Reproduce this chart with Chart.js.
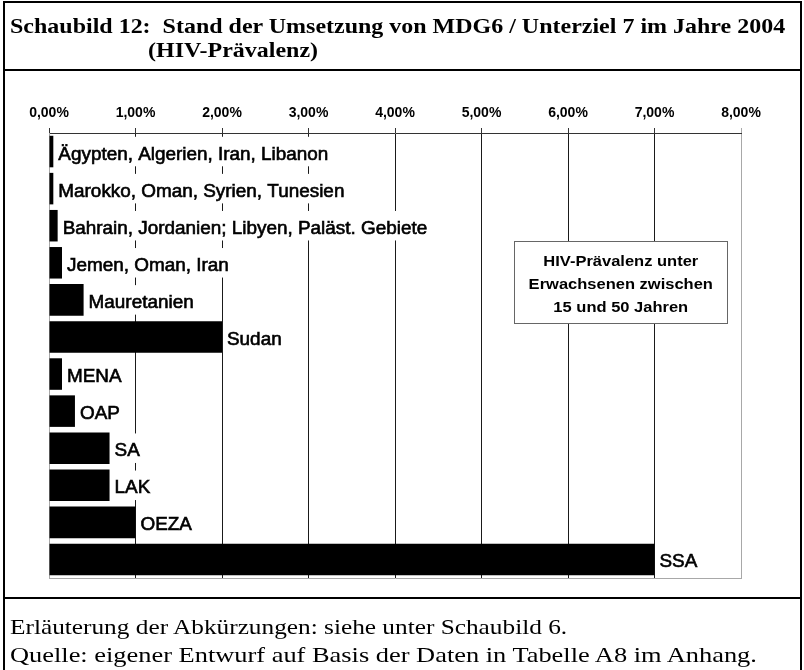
<!DOCTYPE html>
<html>
<head>
<meta charset="utf-8">
<script src="https://cdn.jsdelivr.net/npm/chart.js@4.4.1/dist/chart.umd.min.js"></script>
<style>
    body { margin: 0; background: #fff; }
    #page { position: relative; width: 804px; height: 670px; overflow: hidden; background: #fff; }
    #frame { position: absolute; left: 3px; top: 1px; width: 799px; height: 720px; border: 2px solid #000; box-sizing: border-box; }
    .rule { position: absolute; left: 3px; width: 799px; height: 2px; background: #000; }
    .serif { position: absolute; font-family: "Liberation Serif", "Times New Roman", serif; color: #000; white-space: nowrap; transform-origin: left center; }
    .title { font-weight: bold; font-size: 22px; line-height: 24px; transform: scaleX(1.09); }
    .foot { font-size: 22px; line-height: 28px; }
    #chart { position: absolute; left: 0; top: 0; }
    #note { position: absolute; left: 514px; top: 241px; width: 214px; height: 83px; box-sizing: border-box;
            border: 1px solid #666; background: #fff; padding-top: 7px; text-align: center;
            font-family: "Liberation Sans", Arial, sans-serif; font-weight: bold; font-size: 15px; line-height: 23px; }
    #note span { display: inline-block; transform: scaleX(1.1); }
</style>
</head>
<body>
<div id="page">
    <canvas id="chart" width="804" height="670"></canvas>
    <div id="frame"></div>
    <div class="rule" style="top:69px"></div>
    <div class="rule" style="top:597px"></div>
    <div class="serif title" style="left:10px; top:14px">Schaubild 12:&nbsp; Stand der Umsetzung von MDG6 / Unterziel 7 im Jahre 2004</div>
    <div class="serif title" style="left:148px; top:38px">(HIV-Prävalenz)</div>
    <div id="note"><span>HIV-Prävalenz unter<br>Erwachsenen zwischen<br>15 und 50 Jahren</span></div>
    <div class="serif foot" style="left:10px; top:613px; transform:scaleX(1.15)">Erläuterung der Abkürzungen: siehe unter Schaubild 6.</div>
    <div class="serif foot" style="left:10px; top:641px; transform:scaleX(1.2)">Quelle: eigener Entwurf auf Basis der Daten in Tabelle A8 im Anhang.</div>
</div>
<script>
const categories = [
    'Ägypten, Algerien, Iran, Libanon',
    'Marokko, Oman, Syrien, Tunesien',
    'Bahrain, Jordanien; Libyen, Paläst. Gebiete',
    'Jemen, Oman, Iran',
    'Mauretanien',
    'Sudan',
    'MENA',
    'OAP',
    'SA',
    'LAK',
    'OEZA',
    'SSA'
];
const prevalence = [0.05, 0.05, 0.1, 0.15, 0.4, 2.0, 0.15, 0.3, 0.7, 0.7, 1.0, 7.0];
const tickLabels = ['0,00%', '1,00%', '2,00%', '3,00%', '4,00%', '5,00%', '6,00%', '7,00%', '8,00%'];

const labelStretch = 1.05;

// Beschriftung rechts neben den Balken, mit weissem Hintergrund (verdeckt Gitterlinien)
const barLabels = {
    id: 'barLabels',
    afterDatasetsDraw(chart) {
        const ctx = chart.ctx;
        const meta = chart.getDatasetMeta(0);
        ctx.save();
        ctx.font = '18px "Liberation Sans", Arial, sans-serif';
        ctx.textBaseline = 'middle';
        meta.data.forEach((bar, i) => {
            const text = categories[i];
            const w = ctx.measureText(text).width * labelStretch;
            const h = bar.height - 2;
            ctx.fillStyle = '#fff';
            ctx.fillRect(bar.x + 1, bar.y - h / 2, w + 10, h);
            ctx.save();
            ctx.translate(bar.x + 5, bar.y + 3);
            ctx.scale(labelStretch, 1);
            ctx.fillStyle = '#000';
            ctx.strokeStyle = '#000';
            ctx.lineWidth = 0.6;
            ctx.fillText(text, 0, 0);
            ctx.strokeText(text, 0, 0);
            ctx.restore();
        });
        ctx.restore();
    }
};

const bottomLine = {
    id: 'bottomLine',
    afterDraw(chart) {
        const { ctx, chartArea: a } = chart;
        ctx.save();
        ctx.strokeStyle = '#a8a8a8';
        ctx.lineWidth = 1;
        ctx.beginPath();
        ctx.moveTo(a.left, a.bottom + 0.5);
        ctx.lineTo(a.right + 1, a.bottom + 0.5);
        ctx.stroke();
        ctx.restore();
    }
};

new Chart(document.getElementById('chart'), {
    type: 'bar',
    data: {
        labels: categories,
        datasets: [{
            data: prevalence,
            backgroundColor: '#000',
            borderWidth: 0,
            barPercentage: 0.85,
            categoryPercentage: 1.0
        }]
    },
    options: {
        indexAxis: 'y',
        responsive: false,
        animation: false,
        devicePixelRatio: 1,
        layout: { padding: { left: 49, right: 63, top: 72, bottom: 92 } },
        plugins: {
            legend: { display: false },
            tooltip: { enabled: false }
        },
        scales: {
            x: {
                type: 'linear',
                position: 'top',
                min: 0,
                max: 8,
                ticks: {
                    stepSize: 1,
                    callback: v => tickLabels[v],
                    color: '#000',
                    padding: 6,
                    font: { family: '"Liberation Sans", Arial, sans-serif', weight: 'bold', size: 14 }
                },
                grid: {
                    color: c => (c.index === 0 || c.index === 8) ? '#a8a8a8' : '#1a1a1a',
                    tickColor: c => c.index === 8 ? '#a8a8a8' : '#333',
                    tickLength: 5,
                    lineWidth: 1
                },
                border: { color: '#333', width: 1 },
                afterFit: s => { s.height = 61; }
            },
            y: {
                ticks: { display: false },
                grid: { display: false },
                border: { color: '#a8a8a8', width: 1 },
                afterFit: s => { s.width = 0; }
            }
        }
    },
    plugins: [barLabels, bottomLine]
});
</script>
</body>
</html>
